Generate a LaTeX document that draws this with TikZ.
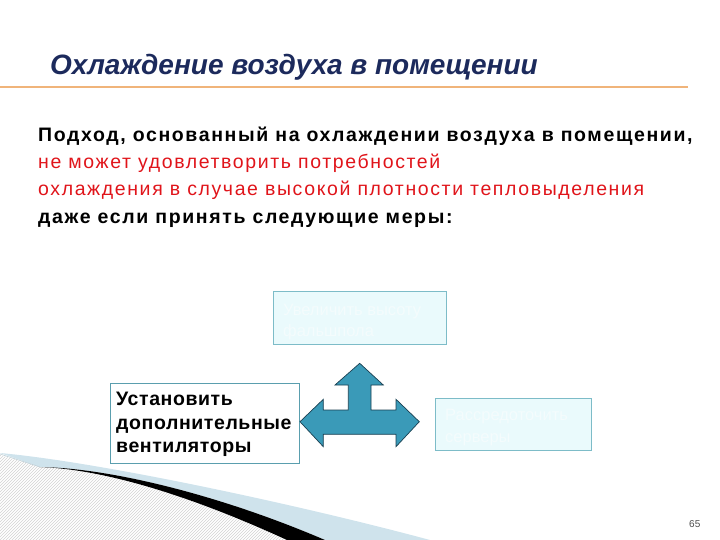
\documentclass[tikz,border=0pt]{standalone}
\usepackage{fontspec}
\setmainfont{Liberation Sans}
\newfontfamily\spacedfont[LetterSpace=8.3]{Liberation Sans}
\newfontfamily\boxfont[LetterSpace=3]{Liberation Sans}
\usetikzlibrary{patterns}
\definecolor{titleblue}{HTML}{1C2A5C}
\definecolor{lineorange}{HTML}{F0B47A}
\definecolor{redtxt}{HTML}{E0141A}
\definecolor{arrowfill}{HTML}{3A9AB8}
\definecolor{arrowdraw}{HTML}{1A3F50}
\definecolor{boxline}{HTML}{5A9EAE}
\definecolor{paleboxfill}{HTML}{EAFAFC}
\definecolor{paleboxline}{HTML}{7DBCC8}
\definecolor{paletext}{HTML}{F4FCFD}
\definecolor{swooshblue}{HTML}{CFE3EC}
\tikzset{
  txt/.style={inner sep=0pt, anchor=base west},
  bodyb/.style={txt, font=\spacedfont\fontsize{19.5}{23}\selectfont\bfseries, text=black},
  bodyr/.style={txt, font=\spacedfont\fontsize{19.5}{23}\selectfont, text=redtxt},
  boxb/.style={txt, font=\boxfont\fontsize{19.5}{23}\selectfont\bfseries, text=black},
  palet/.style={txt, font=\fontsize{16.5}{20}\selectfont, text=paletext},
  pale/.style={draw=paleboxline, fill=paleboxfill, line width=0.8pt, inner sep=0pt},
}
\begin{document}
\begin{tikzpicture}[x=1pt,y=-1pt]
\useasboundingbox (0,0) rectangle (720,540);
% title
\node[txt, font=\fontsize{28}{32}\selectfont\bfseries\itshape, text=titleblue] (title) at (50,75) {Охлаждение воздуха в помещении};
\coordinate (la) at (0,87);
\coordinate (lb) at (688,87);
\draw[lineorange, line width=1.3pt] (la) -- (lb);
% body
\node[bodyb] (l1) at (38,142) {Подход, основанный на охлаждении воздуха в помещении,};
\node[bodyr] (l2) at (38,169) {не может удовлетворить потребностей};
\node[bodyr] (l3) at (38,196) {охлаждения в случае высокой плотности тепловыделения};
\node[bodyb] (l4) at (38,223) {даже если принять следующие меры:};
% pale boxes
\path[pale] (273.3,291.7) rectangle (446,344.3);
\node[palet] (t1a) at (283,315) {Увеличить высоту};
\node[palet] (t1b) at (283,336) {фальшпола};
\path[pale] (435,398.3) rectangle (591.7,450);
\node[palet] (t2a) at (445,420) {Рассредоточить};
\node[palet] (t2b) at (445,442) {серверы};
% main box
\draw[boxline, line width=0.8pt, fill=white] (110,383.3) rectangle (299,463.3);
\node[boxb] (t3a) at (116,405) {Установить};
\node[boxb] (t3b) at (116,429) {дополнительные};
\node[boxb] (t3c) at (116,452.5) {вентиляторы};
% arrow
\draw[fill=arrowfill, draw=arrowdraw, line width=0.7pt, line join=miter]
 (359.7,363.3) -- (383.3,385) -- (371,385) -- (371,410) -- (396,410) -- (396,399.3)
 -- (419.3,421.7) -- (396,446.7) -- (396,434.3) -- (323.3,434.3) -- (323.3,446.7)
 -- (300,421.7) -- (323.3,399.3) -- (323.3,410) -- (348.3,410) -- (348.3,385) -- (335,385) -- cycle;
% swoosh
\coordinate (sw) at (40,467);
\fill[pattern=north east lines, pattern color=gray!35] (0,455) -- (sw)
  .. controls (110,469.5) and (200,500) .. (287,540) -- (0,540) -- cycle;
\fill[swooshblue] (0,453) .. controls (100,462) and (300,505) .. (430,540)
  -- (325,540) .. controls (220,495) and (110,468) .. (sw) -- cycle;
\fill[black] (sw) .. controls (110,468) and (220,495) .. (325,540)
  -- (287,540) .. controls (200,500) and (110,469.5) .. (sw) -- cycle;
\draw[swooshblue!80!gray, line width=0.6pt] (0,454) -- (sw);
% page number
\node[txt, font=\fontsize{10}{12}\selectfont, text=black!70] (pg) at (689,527) {65};
\end{tikzpicture}
\end{document}
